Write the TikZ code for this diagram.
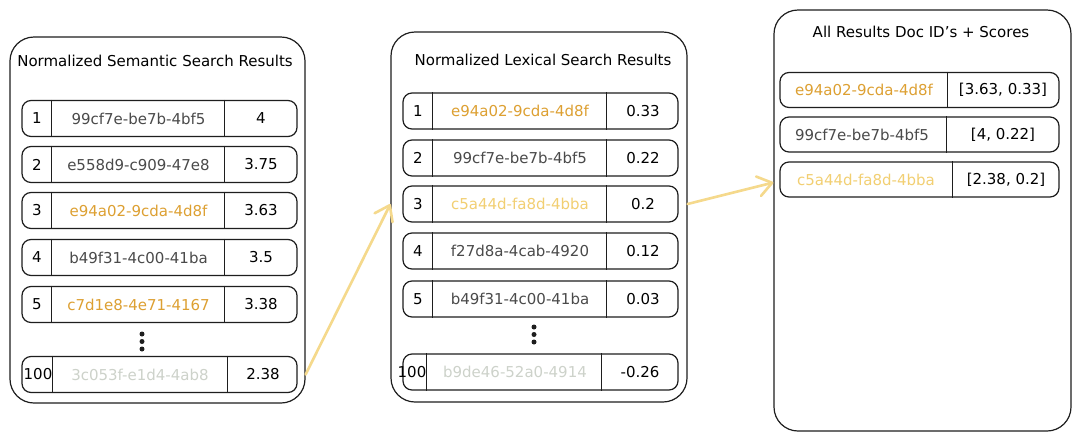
\documentclass[tikz,border=0pt]{standalone}
\usepackage{fontspec}
\setmainfont{DejaVu Sans}
\usepackage{tikz}
\usetikzlibrary{arrows.meta}
\definecolor{ink}{HTML}{1E1E1E}
\definecolor{idgray}{HTML}{4A4A4A}
\definecolor{hit}{HTML}{DDA032}
\definecolor{weak}{HTML}{F2CF72}
\definecolor{faint}{HTML}{CDD2CA}
\definecolor{flow}{HTML}{F5D98C}

\begin{document}
\begin{tikzpicture}[x=1pt, y=-1pt, font=\fontsize{15pt}{17pt}\selectfont,
        panel/.style={draw=ink, line width=1.2pt, rounded corners=24pt},
        rowbox/.style={draw=ink, line width=1.2pt, rounded corners=9pt, minimum height=36pt, minimum width=275pt},
        cell/.style={draw=ink, line width=1.2pt},
        idtxt/.style={text=idgray}, hittxt/.style={text=hit}, weaktxt/.style={text=weak}, fainttxt/.style={text=faint},
        dot/.style={circle, fill=ink, inner sep=0pt, minimum size=5pt},
        flowarrow/.style={draw=flow, line width=2.6pt, line cap=round, -{Straight Barb[length=14pt, width=20pt, round]}}]
        \useasboundingbox[fill=white] (0,0) rectangle (1080,440);
        % panels
        \node[panel, minimum width=295pt, minimum height=366pt] (sem) at (157.5, 220) {};
        \node[panel, minimum width=296pt, minimum height=370pt] (lex) at (539, 217) {};
        \node[panel, minimum width=297pt, minimum height=421pt] (all) at (922.5, 220.5) {};
        \node (semT) at (155, 61) {Normalized Semantic Search Results};
        \node (lexT) at (543, 60) {Normalized Lexical Search Results};
        \node (allT) at (921, 32) {All Results Doc ID's + Scores};
        % semantic rows
        \node[rowbox] (s1) at (159.5, 118.5) {}; \node (s1n) at (37, 118.5) {1}; \node[idtxt] (s1i) at (138.5, 118.5) {99cf7e-be7b-4bf5}; \node (s1v) at (261, 118.5) {4};
        \node[rowbox] (s2) at (159.5, 164.5) {}; \node (s2n) at (37, 164.5) {2}; \node[idtxt] (s2i) at (138.5, 164.5) {e558d9-c909-47e8}; \node (s2v) at (261, 164.5) {3.75};
        \node[rowbox] (s3) at (159.5, 210.5) {}; \node (s3n) at (37, 210.5) {3}; \node[hittxt] (s3i) at (138.5, 210.5) {e94a02-9cda-4d8f}; \node (s3v) at (261, 210.5) {3.63};
        \node[rowbox] (s4) at (159.5, 257.5) {}; \node (s4n) at (37, 257.5) {4}; \node[idtxt] (s4i) at (138.5, 257.5) {b49f31-4c00-41ba}; \node (s4v) at (261, 257.5) {3.5};
        \node[rowbox] (s5) at (159.5, 304.5) {}; \node (s5n) at (37, 304.5) {5}; \node[hittxt] (s5i) at (138.5, 304.5) {c7d1e8-4e71-4167}; \node (s5v) at (261, 304.5) {3.38};
        \node[rowbox] (s100) at (159.5, 374.5) {}; \node (s100n) at (38, 374.5) {100}; \node[fainttxt] (s100i) at (140, 374.5) {3c053f-e1d4-4ab8}; \node (s100v) at (263, 374.5) {2.38};
        \foreach \r in {s1, s2, s3, s4, s5} {
            \draw[cell] ([xshift=30pt]\r.north west) -- ([xshift=30pt]\r.south west);
            \draw[cell] ([xshift=203pt]\r.north west) -- ([xshift=203pt]\r.south west);
        }
        \draw[cell] ([xshift=31pt]s100.north west) -- ([xshift=31pt]s100.south west);
        \draw[cell] ([xshift=206pt]s100.north west) -- ([xshift=206pt]s100.south west);
        \node[dot] (sd1) at (142, 334) {}; \node[dot] (sd2) at (142, 341.5) {}; \node[dot] (sd3) at (142, 349) {};
        % lexical rows
        \node[rowbox] (l1) at (540.5, 111) {}; \node (l1n) at (418, 111) {1}; \node[hittxt] (l1i) at (520, 111) {e94a02-9cda-4d8f}; \node (l1v) at (643, 111) {0.33};
        \node[rowbox] (l2) at (540.5, 158) {}; \node (l2n) at (418, 158) {2}; \node[idtxt] (l2i) at (520, 158) {99cf7e-be7b-4bf5}; \node (l2v) at (643, 158) {0.22};
        \node[rowbox] (l3) at (540.5, 204) {}; \node (l3n) at (418, 204) {3}; \node[weaktxt] (l3i) at (520, 204) {c5a44d-fa8d-4bba}; \node (l3v) at (643, 204) {0.2};
        \node[rowbox] (l4) at (540.5, 251) {}; \node (l4n) at (418, 251) {4}; \node[idtxt] (l4i) at (520, 251) {f27d8a-4cab-4920}; \node (l4v) at (643, 251) {0.12};
        \node[rowbox] (l5) at (540.5, 299) {}; \node (l5n) at (418, 299) {5}; \node[idtxt] (l5i) at (520, 299) {b49f31-4c00-41ba}; \node (l5v) at (643, 299) {0.03};
        \node[rowbox] (l100) at (540.5, 372) {}; \node (l100n) at (412, 372) {100}; \node[fainttxt] (l100i) at (515, 372) {b9de46-52a0-4914}; \node (l100v) at (640, 372) {-0.26};
        \foreach \r in {l1, l2, l3, l4, l5} {
            \draw[cell] ([xshift=30pt]\r.north west) -- ([xshift=30pt]\r.south west);
            \draw[cell] ([xshift=204pt]\r.north west) -- ([xshift=204pt]\r.south west);
        }
        \draw[cell] ([xshift=24pt]l100.north west) -- ([xshift=24pt]l100.south west);
        \draw[cell] ([xshift=199pt]l100.north west) -- ([xshift=199pt]l100.south west);
        \node[dot] (ld1) at (534, 327) {}; \node[dot] (ld2) at (534, 334.5) {}; \node[dot] (ld3) at (534, 342) {};
        % combined rows
        \node[rowbox, minimum width=279pt, minimum height=35pt] (a1) at (919.5, 90) {}; \node[hittxt] (a1i) at (864, 90) {e94a02-9cda-4d8f}; \node (a1v) at (1003, 90) {[3.63, 0.33]};
        \node[rowbox, minimum width=279pt, minimum height=35pt] (a2) at (919.5, 134.5) {}; \node[idtxt] (a2i) at (862, 134.5) {99cf7e-be7b-4bf5}; \node (a2v) at (1003, 134.5) {[4, 0.22]};
        \node[rowbox, minimum width=279pt, minimum height=35pt] (a3) at (919.5, 179.5) {}; \node[weaktxt] (a3i) at (866, 179.5) {c5a44d-fa8d-4bba}; \node (a3v) at (1006, 179.5) {[2.38, 0.2]};
        \draw[cell] ([xshift=168pt]a1.north west) -- ([xshift=168pt]a1.south west);
        \draw[cell] ([xshift=167pt]a2.north west) -- ([xshift=167pt]a2.south west);
        \draw[cell] ([xshift=173pt]a3.north west) -- ([xshift=173pt]a3.south west);
        % flow
        \coordinate (semOut) at (sem.east |- s100); \coordinate (lexIn) at (lex.west |- l3);
        \coordinate (lexOut) at (lex.east |- l3); \coordinate (allIn) at ([yshift=-3pt]all.west |- a3);
        \draw[flowarrow] (semOut) to (lexIn);
        \draw[flowarrow] (lexOut) to (allIn);
    \end{tikzpicture}
\end{document}
